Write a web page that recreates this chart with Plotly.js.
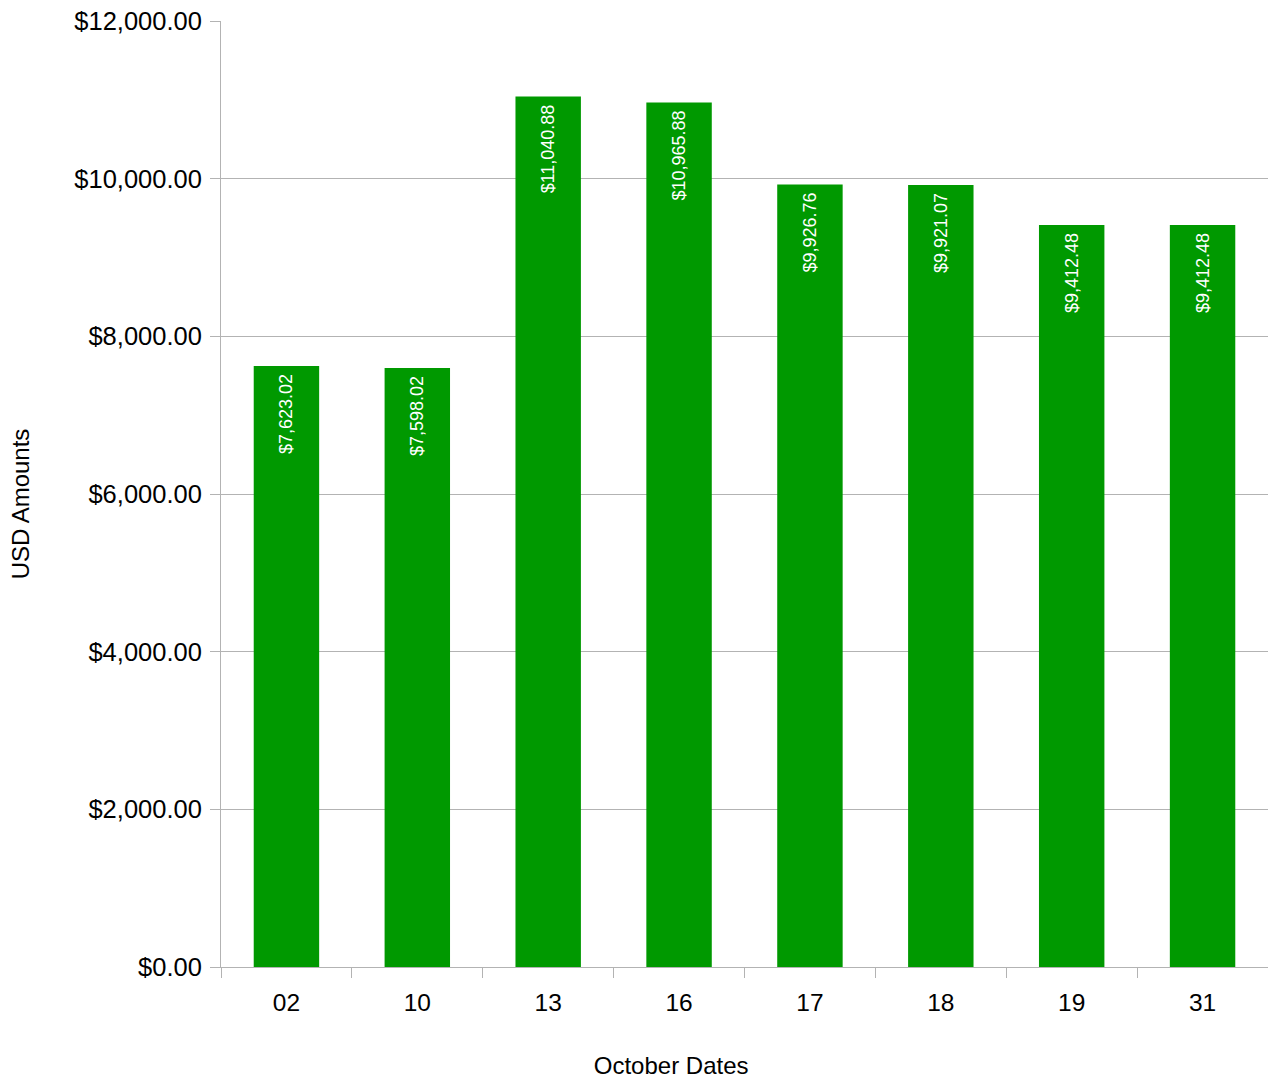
<!DOCTYPE html>
<html>
<head>
<meta charset="utf-8">
<script src="https://cdn.plot.ly/plotly-3.0.1.min.js"></script>
<style>html,body{margin:0;padding:0;background:#fff;overflow:hidden}</style>
</head>
<body>
<div id="chart" style="width:1268px;height:1079px"></div>
<script>
const categories = ["02", "10", "13", "16", "17", "18", "19", "31"];
const amounts = [7623.02, 7598.02, 11040.88, 10965.88, 9926.76, 9921.07, 9412.48, 9412.48];
const yTickValues = [0, 2000, 4000, 6000, 8000, 10000, 12000];
const xTitle = "October Dates";
const yTitle = "USD Amounts";

const fmt = v => "$" + v.toLocaleString("en-US", {minimumFractionDigits: 2, maximumFractionDigits: 2});
const pad = n => "\u00a0".repeat(n) + "\u200b";

const FONT = "Liberation Sans, Arial, sans-serif";
const GRID = "#b3b3b3";

Plotly.newPlot("chart", [{
  type: "bar",
  x: categories,
  y: amounts,
  marker: {color: "#009900"},
  text: amounts.map(v => fmt(v) + pad(1)),
  textposition: "inside",
  insidetextanchor: "end",
  textangle: -90,
  textfont: {family: FONT, size: 18, color: "#ffffff"},
  hoverinfo: "x+y"
}], {
  width: 1268,
  height: 1079,
  margin: {l: 221, r: 0, t: 21, b: 112},
  paper_bgcolor: "#ffffff",
  plot_bgcolor: "#ffffff",
  bargap: 0.5,
  showlegend: false,
  font: {family: FONT, color: "#000000"},
  xaxis: {
    type: "category",
    tickson: "boundaries",
    ticks: "outside",
    ticklen: 10,
    tickcolor: GRID,
    tickwidth: 1,
    showline: true,
    linecolor: GRID,
    linewidth: 1,
    showgrid: false,
    tickfont: {family: FONT, size: 24.5, color: "#000000"},
    ticklabelstandoff: 14,
    automargin: false,
    title: {text: xTitle + pad(22), font: {family: FONT, size: 24, color: "#000000"}, standoff: 42}
  },
  yaxis: {
    range: [0, 12000],
    tickvals: yTickValues,
    ticktext: yTickValues.map(fmt),
    ticks: "outside",
    ticklen: 10,
    tickcolor: GRID,
    tickwidth: 1,
    showline: true,
    linecolor: GRID,
    linewidth: 1,
    showgrid: true,
    gridcolor: GRID,
    gridwidth: 1,
    zeroline: false,
    tickfont: {family: FONT, size: 25.5, color: "#000000"},
    ticklabelstandoff: 3,
    automargin: false,
    title: {text: yTitle + pad(3), font: {family: FONT, size: 24, color: "#000000"}, standoff: 37}
  }
}, {displayModeBar: false, staticPlot: true});
</script>
</body>
</html>
